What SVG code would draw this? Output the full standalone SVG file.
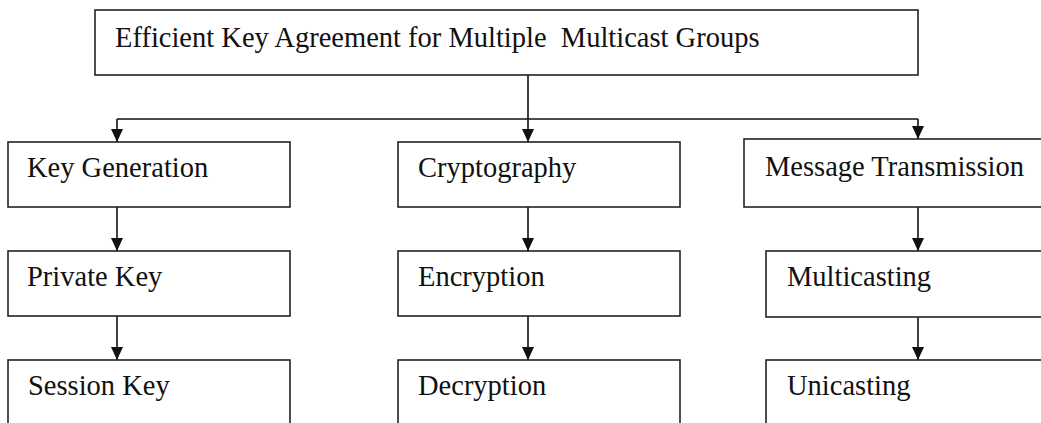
<svg xmlns="http://www.w3.org/2000/svg" width="1041" height="423" viewBox="0 0 1041 423">
  <style>
    .box { fill: #ffffff; stroke: #222222; stroke-width: 1.6; }
    .label { font-family: "Liberation Serif", "Times New Roman", serif; font-size: 28.5px; fill: #111111; }
    .link { fill: none; stroke: #111111; stroke-width: 1.6; }
  </style>
  <defs>
    <!-- solid triangular head, drawn along +x so orient="auto" turns it to the line direction -->
    <marker id="arrow" markerWidth="13" markerHeight="12" refX="13" refY="6" orient="auto" markerUnits="userSpaceOnUse" viewBox="0 0 13 12">
      <path d="M0,0 L13,6 L0,12 Z" fill="#111111"/>
    </marker>
  </defs>
  <rect width="1041" height="423" fill="#ffffff"/>

  <!-- connectors -->
  <g id="connectors">
    <path class="link" d="M528,75 V119"/>
    <path class="link" d="M117,119 H918"/>
    <path class="link" d="M117,119 V142" marker-end="url(#arrow)"/>
    <path class="link" d="M528,119 V142" marker-end="url(#arrow)"/>
    <path class="link" d="M918,119 V139" marker-end="url(#arrow)"/>
    <path class="link" d="M117,207 V251" marker-end="url(#arrow)"/>
    <path class="link" d="M117,316 V360" marker-end="url(#arrow)"/>
    <path class="link" d="M528,207 V251" marker-end="url(#arrow)"/>
    <path class="link" d="M528,316 V360" marker-end="url(#arrow)"/>
    <path class="link" d="M918,207 V251" marker-end="url(#arrow)"/>
    <path class="link" d="M918,317 V360" marker-end="url(#arrow)"/>
  </g>

  <g id="root">
    <rect class="box" x="95" y="10" width="823" height="65"/>
    <text class="label" x="115" y="47" xml:space="preserve">Efficient Key Agreement for Multiple  Multicast Groups</text>
  </g>

  <g id="key-generation">
    <rect class="box" x="8" y="142" width="282" height="65"/>
    <text class="label" x="27" y="177">Key Generation</text>
  </g>
  <g id="private-key">
    <rect class="box" x="8" y="251" width="282" height="65"/>
    <text class="label" x="27" y="286">Private Key</text>
  </g>
  <g id="session-key">
    <rect class="box" x="8" y="360" width="282" height="80"/>
    <text class="label" x="28" y="395">Session Key</text>
  </g>

  <g id="cryptography">
    <rect class="box" x="398" y="142" width="282" height="65"/>
    <text class="label" x="418" y="177">Cryptography</text>
  </g>
  <g id="encryption">
    <rect class="box" x="398" y="251" width="282" height="65"/>
    <text class="label" x="418" y="286">Encryption</text>
  </g>
  <g id="decryption">
    <rect class="box" x="398" y="360" width="282" height="80"/>
    <text class="label" x="418" y="395">Decryption</text>
  </g>

  <g id="message-transmission">
    <rect class="box" x="744" y="139" width="310" height="68"/>
    <text class="label" x="765" y="176">Message Transmission</text>
  </g>
  <g id="multicasting">
    <rect class="box" x="766" y="251" width="290" height="66"/>
    <text class="label" x="787" y="286">Multicasting</text>
  </g>
  <g id="unicasting">
    <rect class="box" x="766" y="360" width="290" height="80"/>
    <text class="label" x="787" y="395">Unicasting</text>
  </g>
</svg>
